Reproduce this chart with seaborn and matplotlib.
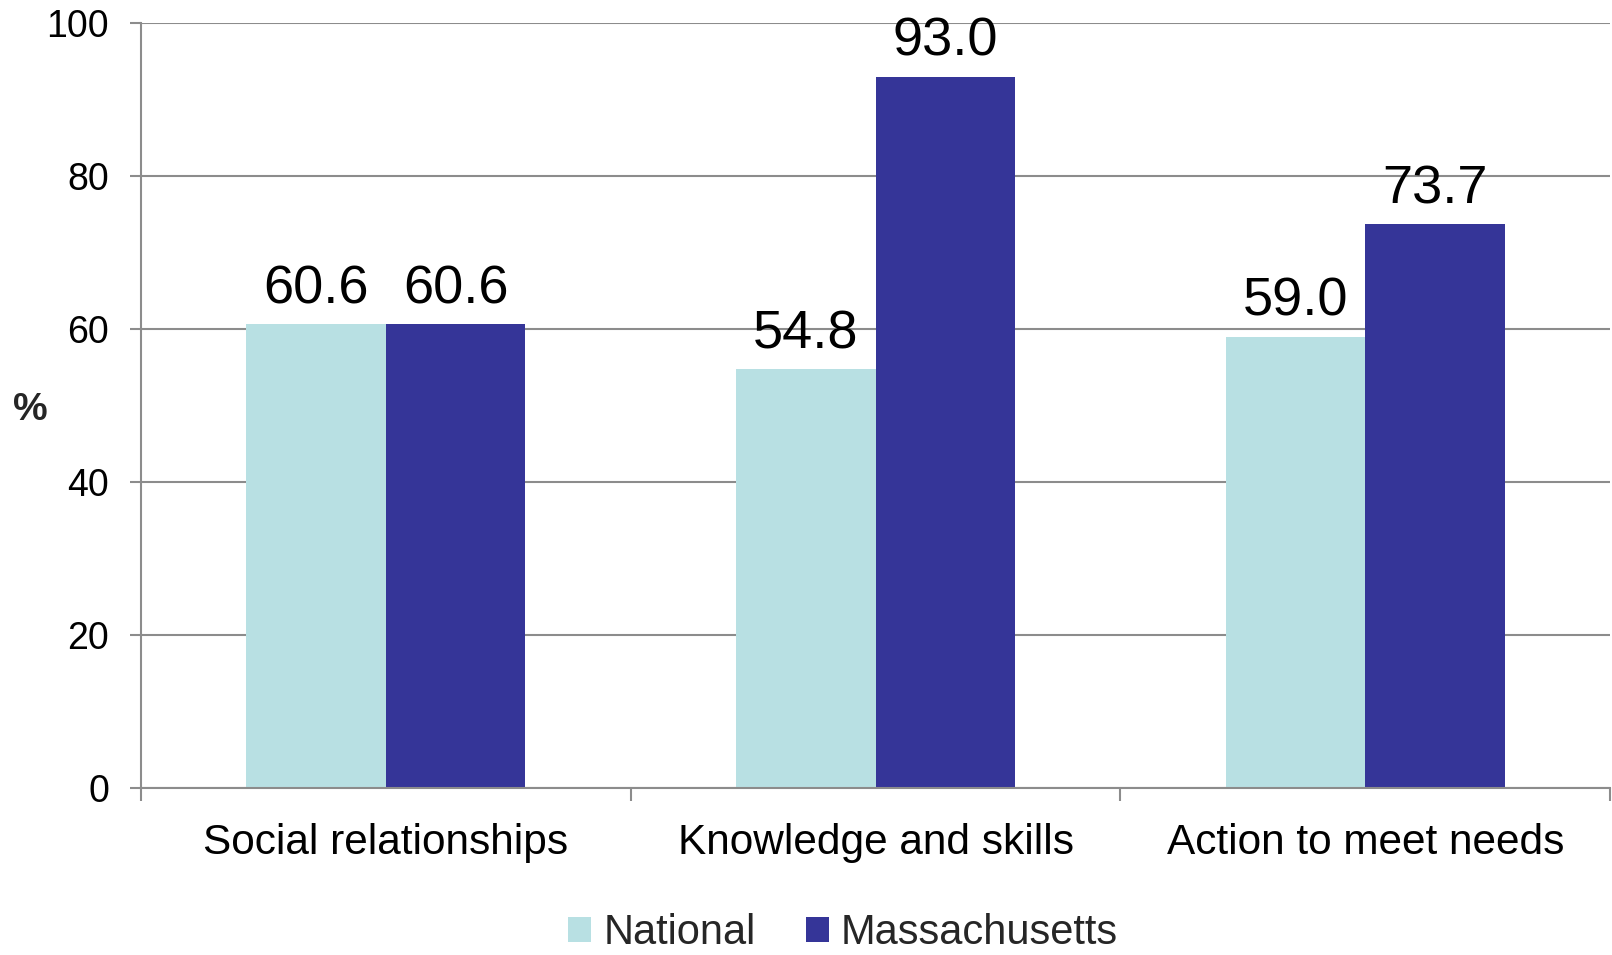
import matplotlib
matplotlib.use("Agg")
import matplotlib.pyplot as plt
import seaborn as sns
import pandas as pd
from matplotlib.ticker import FixedLocator

# Survey results (%)
categories = ["Social relationships", "Knowledge and skills", "Action to meet needs"]
series_names = ["National", "Massachusetts"]
national = [60.6, 54.8, 59.0]
massachusetts = [60.6, 93.0, 73.7]
y_ticks = [0, 20, 40, 60, 80, 100]

colors = {"National": "#B8E0E3", "Massachusetts": "#353598"}
grid_gray = "#8C8C8C"

df = pd.DataFrame({
    "category": categories * 2,
    "group": [series_names[0]] * 3 + [series_names[1]] * 3,
    "value": national + massachusetts,
})

sns.set_theme(style="white")
plt.rcParams["font.family"] = ["Liberation Sans", "DejaVu Sans"]

fig = plt.figure(figsize=(16.12, 9.55), dpi=100)
ax = fig.add_axes([0.0875, 0.1749, 0.9113, 0.8010])

sns.barplot(data=df, x="category", y="value", hue="group", order=categories,
            hue_order=series_names, palette=colors, width=0.57, gap=0,
            saturation=1, edgecolor="none", linewidth=0, ax=ax)

ax.set_ylim(0, 100)
ax.set_xlim(-0.5, 2.5)
ax.set_yticks(y_ticks)
ax.yaxis.grid(True, color=grid_gray, linewidth=1.5)
ax.set_axisbelow(True)

for s in ["top", "right"]:
    ax.spines[s].set_visible(False)
for s in ["left", "bottom"]:
    ax.spines[s].set_color(grid_gray)
    ax.spines[s].set_linewidth(1.5)

ax.tick_params(axis="y", length=8, width=1.5, color=grid_gray, pad=15,
               labelsize=27, labelcolor="black", left=True)
ax.tick_params(axis="x", which="major", length=0, pad=25, labelsize=30.5,
               labelcolor="black")
ax.xaxis.set_minor_locator(FixedLocator([-0.5, 0.5, 1.5, 2.5]))
ax.tick_params(axis="x", which="minor", length=9, width=1.5, color=grid_gray,
               bottom=True)

ax.set_xlabel("")
ax.set_ylabel("")

# Value labels above each bar
for container in ax.containers:
    ax.bar_label(container, fmt="%.1f", padding=7, fontsize=39, color="black")

fig.text(0.019, 0.571, "%", fontsize=28, fontweight="bold", ha="center",
         va="center")

handles, labels = ax.get_legend_handles_labels()
ax.legend_.remove()
fig.legend(handles, labels, loc="lower center", bbox_to_anchor=(0.523, 0.0),
           ncol=2, frameon=False, fontsize=30, handlelength=0.55,
           handleheight=0.55, handletextpad=0.3, columnspacing=1.2,
           borderaxespad=0.05, borderpad=0)

fig.savefig("out.png", dpi=100)
